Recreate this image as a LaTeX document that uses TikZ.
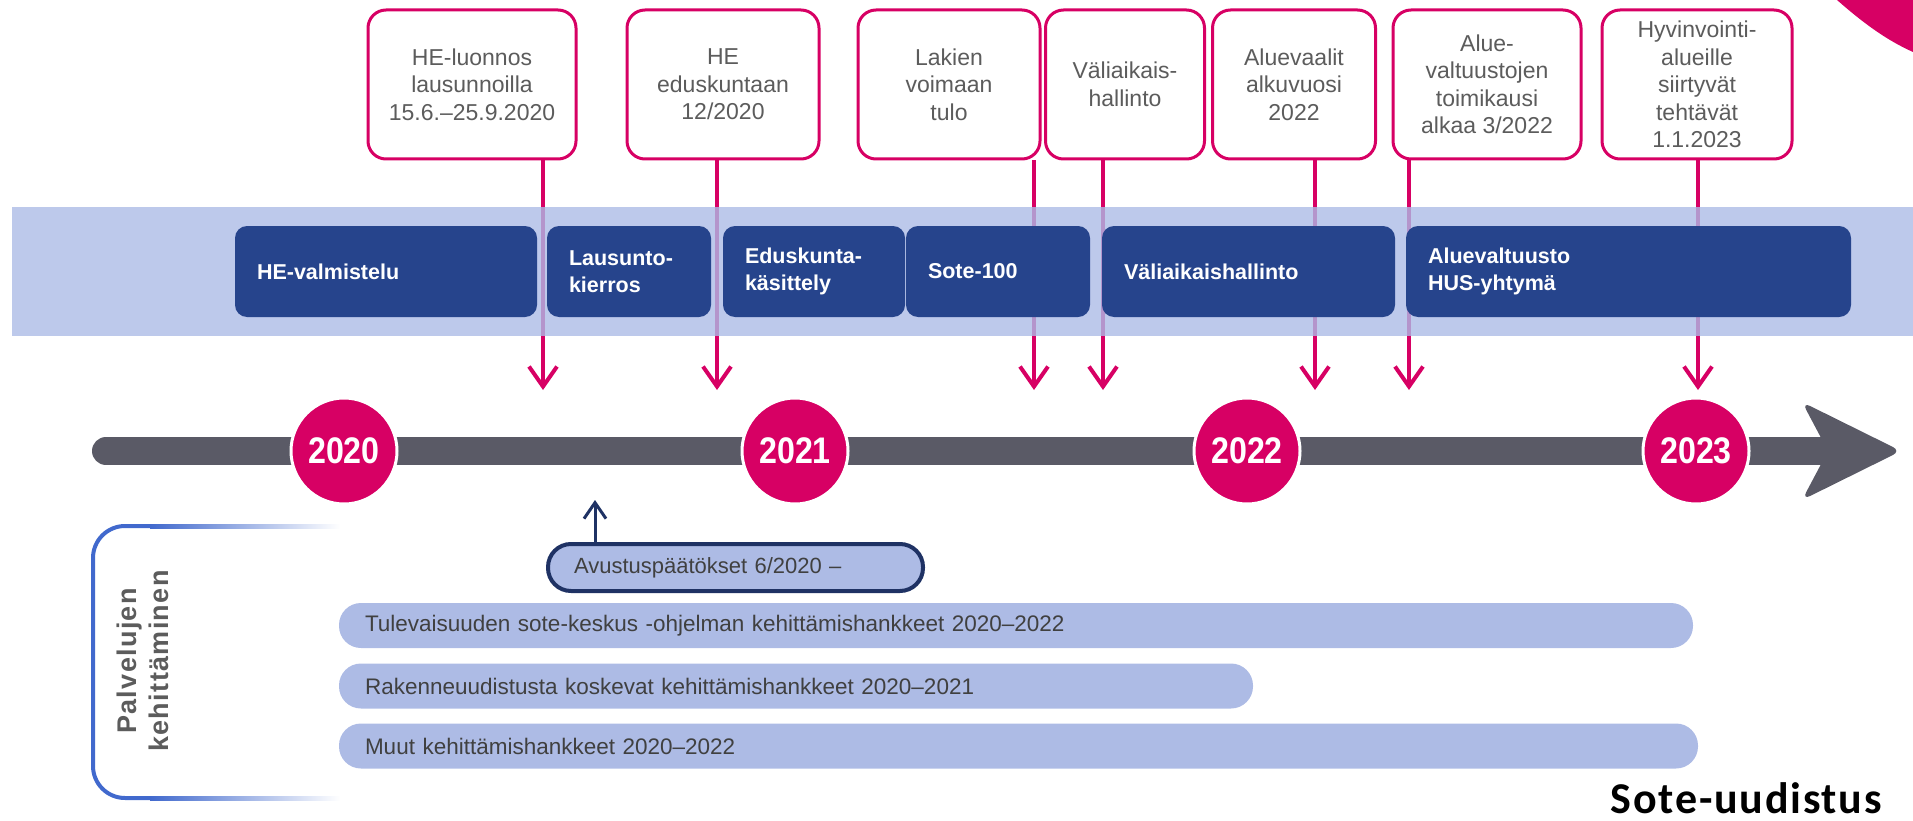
\documentclass[tikz,border=0pt]{standalone}
\usepackage{fontspec}
\setmainfont{Liberation Sans}
\newfontfamily\yearfont[FakeStretch=0.87]{Liberation Sans}
\newfontfamily\spacedfont[LetterSpace=5]{Liberation Sans}
\newfontfamily\titlefont[LetterSpace=4]{Carlito}
\usetikzlibrary{arrows.meta,positioning,calc}

\definecolor{sotepink}{RGB}{215,0,100}
\definecolor{bandblue}{RGB}{172,187,230}
\definecolor{boxnavy}{RGB}{38,68,140}
\definecolor{linegray}{RGB}{90,90,102}
\definecolor{barblue}{RGB}{173,187,229}
\definecolor{pillnavy}{RGB}{31,50,100}
\definecolor{bracketblue}{RGB}{65,105,205}
\definecolor{textgray}{RGB}{92,92,92}
\definecolor{bartext}{RGB}{64,64,64}

\begin{document}
\begin{tikzpicture}[
    x=1pt, y=-1pt,
    % --- styles ---
    callout/.style={draw=sotepink, line width=3pt, rounded corners=18pt, fill=white,
        minimum height=149pt, inner sep=4pt, align=center, text=textgray,
        font=\fontsize{23}{27.5}\selectfont},
    phase/.style={fill=boxnavy, rounded corners=12pt, text=white, minimum height=91pt,
        inner xsep=22pt, align=left, font=\bfseries\fontsize{21.5}{27}\selectfont},
    % pink pointer from a milestone down to the timeline
    pointer/.style={line width=4pt, draw=sotepink, -{Straight Barb[length=20pt, width=28pt]}},
    year/.style={circle, fill=sotepink, draw=white, line width=3pt, minimum size=106pt,
        inner sep=0pt, text=white, font=\yearfont\bfseries\fontsize{37}{40}\selectfont},
    timeline/.style={line width=28pt, draw=linegray, line cap=round},
    grant/.style={draw=pillnavy, line width=4pt, fill=barblue, rounded corners=23pt,
        minimum height=47pt, inner xsep=26pt, align=left, text=bartext,
        font=\fontsize{22}{26}\selectfont},
    grant arrow/.style={line width=3pt, draw=pillnavy, -{Straight Barb[length=16pt, width=22pt]}},
    bar/.style={fill=barblue, rounded corners=22pt, minimum height=45pt, inner xsep=26pt,
        align=left, text=bartext, font=\fontsize{22.5}{27}\selectfont}
]
    \useasboundingbox (0,0) rectangle (1913,821);

    % --- 1. milestone callouts ---
    \node[callout, minimum width=208pt] (draft) at (472,84.5) {HE-luonnos\\lausunnoilla\\15.6.–25.9.2020};
    \node[callout, minimum width=192pt] (parliament) at (723,84.5) {HE\\eduskuntaan\\12/2020};
    \node[callout, minimum width=182pt] (laws) at (949,84.5) {Lakien\\voimaan\\tulo};
    \node[callout, minimum width=159pt] (interim) at (1125,84.5) {Väliaikais-\\hallinto};
    \node[callout, minimum width=163pt] (elections) at (1294,84.5) {Aluevaalit\\alkuvuosi\\2022};
    \node[callout, minimum width=188pt] (councils) at (1487,84.5) {Alue-\\valtuustojen\\toimikausi\\alkaa 3/2022};
    \node[callout, minimum width=190pt] (transfer) at (1697,84.5) {Hyvinvointi-\\alueille\\siirtyvät\\tehtävät\\1.1.2023};

    % arrow ends just above the timeline
    \coordinate (tip_draft) at (543,390);
    \coordinate (tip_parl) at (717,390);
    \coordinate (tip_laws) at (1034,390);
    \coordinate (tip_interim) at (1103,390);
    \coordinate (tip_elect) at (1315,390);
    \coordinate (tip_council) at (1409,390);
    \coordinate (tip_transfer) at (1698,390);

    \foreach \src/\tip in {draft/tip_draft, parliament/tip_parl, laws/tip_laws,
        interim/tip_interim, elections/tip_elect, councils/tip_council, transfer/tip_transfer}
        \draw[pointer] (\src.south -| \tip) -- (\tip);

    % --- 2. phase band ---
    \fill[bandblue, fill opacity=0.8] (12,207) rectangle (1913,336);

    \node[phase, text width=258pt] (prep) at (386,271.5) {HE-valmistelu};
    \node[phase, text width=120pt] (round) at (629,271.5) {Lausunto-\\kierros};
    \node[phase, text width=138pt] (handling) at (814,271.5) {Eduskunta-\\käsittely};
    \node[phase, text width=140pt] (sote100) at (998,271.5) {Sote-100};
    \node[phase, text width=249pt] (interimadm) at (1248.5,271.5) {Väliaikaishallinto};
    \node[phase, text width=401pt] (council) at (1628.5,271.5) {Aluevaltuusto\\HUS-yhtymä};

    % --- 3. timeline ---
    \draw[timeline] (106,451) -- (1830,451);
    \fill[linegray, rounded corners=9pt] (1828,451) -- (1802,402) -- (1901,451) -- (1802,500) -- cycle;

    \foreach \yr/\xx in {2020/344, 2021/795, 2022/1247, 2023/1696}
        \node[year] (y\yr) at (\xx,451) {\yr};

    % --- 4. grants ---
    \node[grant, text width=323pt] (grant) at (735.5,567.5) {Avustuspäätökset 6/2020 –};
    \coordinate (tip_grant) at (595,500);
    \draw[grant arrow] (grant.north -| tip_grant) -- (tip_grant);

    % --- 5. service development ---
    \draw[line width=4pt, bracketblue, rounded corners=32pt] (150,526) -- (93,526) -- (93,798) -- (150,798);
    \shade[left color=bracketblue, right color=white] (150,524) rectangle (340,528);
    \shade[left color=bracketblue, right color=white] (150,796) rectangle (340,800);
    \node[rotate=90, align=center, text=textgray,
        font=\spacedfont\bfseries\fontsize{27}{32}\selectfont] (services) at (143,661) {Palvelujen\\kehittäminen};

    \node[bar, text width=1302pt] (bar_future) at (1016,625.5) {Tulevaisuuden sote-keskus -ohjelman kehittämishankkeet 2020–2022};
    \node[bar, text width=862pt] (bar_reform) at (796,686) {Rakenneuudistusta koskevat kehittämishankkeet 2020–2021};
    \node[bar, text width=1307pt] (bar_other) at (1018.5,746) {Muut kehittämishankkeet 2020–2022};

    % --- 6. title and corner ---
    \node[anchor=base east, inner sep=0pt,
        font=\titlefont\bfseries\fontsize{44}{48}\selectfont] (title) at (1882,813) {Sote-uudistus};
    \fill[sotepink] (1837,0) .. controls (1862,22) and (1886,40) .. (1913,52) -- (1913,0) -- cycle;

\end{tikzpicture}
\end{document}
